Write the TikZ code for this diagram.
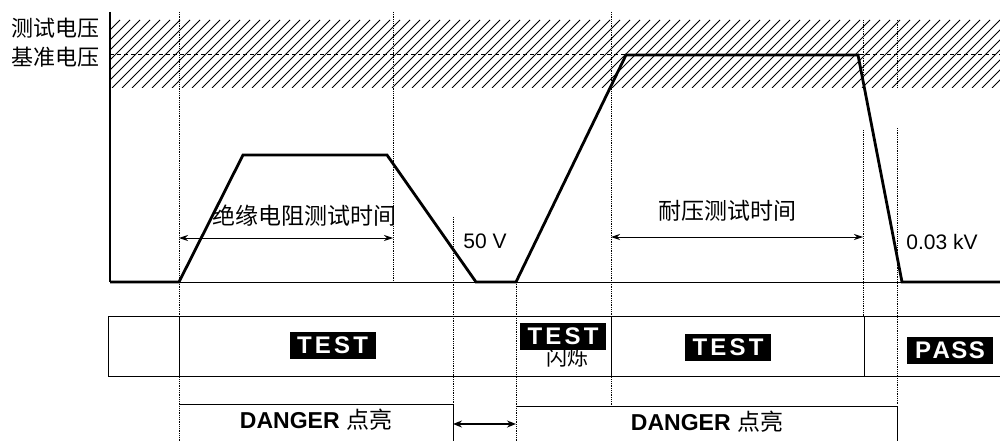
\documentclass[tikz,border=0pt]{standalone}
\usepackage{fontspec}
\setmainfont{Liberation Sans}
\newfontfamily\cjk{Noto Sans CJK SC}
\usetikzlibrary{arrows.meta}
\begin{document}
\begin{tikzpicture}[x=1pt,y=-1pt,
  wavepath/.style={line width=2.8pt, line join=miter},
  thinline/.style={line width=1pt},
  guide/.style={line width=0.8pt, densely dotted},
  dimarrow/.style={line width=0.9pt, {Stealth[length=9pt,width=6pt]}-{Stealth[length=9pt,width=6pt]}},
  blacktag/.style={fill=black, text=white, font=\fontsize{24}{24}\selectfont\bfseries, minimum width=86pt, minimum height=27pt, inner sep=0pt},
  cn/.style={font=\cjk\fontsize{23}{23}\selectfont, inner sep=0pt},
  lat/.style={font=\fontsize{21}{21}\selectfont, inner sep=0pt},
  danger/.style={font=\fontsize{23}{23}\selectfont, inner sep=0pt},
]
\useasboundingbox (0,0) rectangle (1000,441);

% hatched band
\begin{scope}
  \clip (110,20) rectangle (1000,88);
  \foreach \x in {40,50,...,1090} \draw[line width=1pt] (\x-68,88) -- (\x,20);
\end{scope}
\draw[line width=0.8pt, dash pattern=on 4pt off 3pt] (110,54) -- (1000,54);

% axis labels
\node[cn, font=\cjk\fontsize{22}{22}\selectfont] (lt) at (55,28) {测试电压};
\node[cn, font=\cjk\fontsize{22}{22}\selectfont] (lb) at (55,57) {基准电压};

% axis and baseline
\draw[line width=1.2pt] (110,12) -- (110,282);
\draw[thinline] (110,282) -- (1000,282);

% guide lines
\draw[guide] (179,12) -- (179,441);
\draw[guide] (393,12) -- (393,282);
\draw[guide] (453,217) -- (453,404);
\draw[guide] (516,282) -- (516,441);
\draw[guide] (611,12) -- (611,406);
\draw[guide] (863,20) -- (863,88) (863,130) -- (863,316);
\draw[guide] (897,20) -- (897,88) (897,128) -- (897,405);

% waveform
\draw[wavepath] (110,282) -- (179,282) -- (243,155) -- (387,155) -- (476,282) -- (516,282)
  -- (626,55) -- (858,55) -- (902,282) -- (1000,282);

% time arrows
\coordinate (ir1) at (179,238);
\coordinate (ir2) at (393,238);
\coordinate (hv1) at (611,237);
\coordinate (hv2) at (863,237);
\draw[dimarrow] (ir1) -- (ir2);
\draw[dimarrow] (hv1) -- (hv2);
\node[cn] (irt) at (304,216) {绝缘电阻测试时间};
\node[cn] (hvt) at (727,211) {耐压测试时间};
\node[lat] (v50) at (485,241) {50 V};
\node[lat] (v003) at (942,242) {0.03 kV};

% status bar
\draw[thinline] (1000,316) -- (108,316) -- (108,376) -- (1000,376);
\draw[thinline] (179,316) -- (179,376) (611,316) -- (611,376) (864,316) -- (864,376);

\node[cn, font=\cjk\fontsize{21}{21}\selectfont] (fl) at (567,358) {闪烁};
\node[blacktag] (t1) at (332.5,345.5) {\makebox[71pt][s]{T\hfill E\hfill S\hfill T}};
\node[blacktag] (t2) at (563,336) {\makebox[71pt][s]{T\hfill E\hfill S\hfill T}};
\node[blacktag] (t3) at (728,347.5) {\makebox[71pt][s]{T\hfill E\hfill S\hfill T}};
\node[blacktag] (t4) at (950,350) {\makebox[70pt][s]{P\hfill A\hfill S\hfill S}};

% danger indications
\draw[thinline] (179,404) -- (453,404) -- (453,441);
\draw[thinline] (516,406) -- (897,406) -- (897,441);
\node[danger] (d1) at (316,420) {\bfseries DANGER {\mdseries\cjk 点亮}};
\node[danger] (d2) at (707,422) {\bfseries DANGER {\mdseries\cjk 点亮}};
\coordinate (g1) at (453,424);
\coordinate (g2) at (516,424);
\draw[line width=1.8pt, {Stealth[length=9pt,width=7pt]}-{Stealth[length=9pt,width=7pt]}] (g1) -- (g2);
\end{tikzpicture}
\end{document}
